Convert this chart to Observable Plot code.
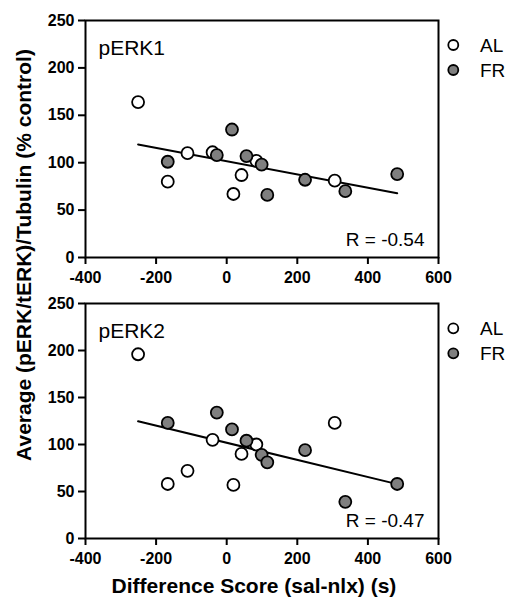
<!DOCTYPE html>
<html>
<head>
<meta charset="utf-8">
<script src="https://cdn.jsdelivr.net/npm/d3@7"></script>
<script src="https://cdn.jsdelivr.net/npm/@observablehq/plot@0.6"></script>
<style>
  body { margin: 0; background: #fff; }
  #chart { position: relative; width: 507px; height: 602px; background: #fff; font-family: "Liberation Sans", Arial, sans-serif; }
  .panel { position: absolute; left: 0; }
  g[aria-label$="axis tick"] { stroke-width: 2px; }
  .tick line { stroke-width: 2px; }
</style>
</head>
<body>
<div id="chart"></div>
<script>
// ---- data ----
const xTicks = [-400, -200, 0, 200, 400, 600];
const yTicks = [0, 50, 100, 150, 200, 250];
const groups = ["AL", "FR"];
const panelLabels = ["pERK1", "pERK2"];
const rLabels = ["R = -0.54", "R = -0.47"];
const xTitle = "Difference Score (sal-nlx) (s)";
const yTitle = "Average (pERK/tERK)/Tubulin (% control)";

// Difference score (s) per subject
const alX = [-251, -167, -111, -40, 19, 42, 84, 306];
const frX = [-167, -28, 15, 56, 99, 115, 222, 336, 483];

// pERK1 (% control)
const alY1 = [164, 80, 110, 111, 67, 87, 102, 81];
const frY1 = [101, 108, 135, 107, 98, 66, 82, 70, 88];

// pERK2 (% control)
const alY2 = [196, 58, 72, 105, 57, 90, 100, 123];
const frY2 = [123, 134, 116, 104, 89, 81, 94, 39, 58];

const FONT = "Liberation Sans, Arial, sans-serif";
const GRAY = "#7f7f7f";

function panel(alY, frY, label, rText, height, marginBottom) {
  const al = alX.map((x, i) => ({x, y: alY[i], g: groups[0]}));
  const fr = frX.map((x, i) => ({x, y: frY[i], g: groups[1]}));
  const all = al.concat(fr);
  return Plot.plot({
    width: 507,
    height,
    marginLeft: 85,
    marginRight: 69,
    marginTop: 20,
    marginBottom,
    style: {fontFamily: FONT, fontSize: "16px", fontWeight: "bold", color: "black", background: "white", overflow: "visible"},
    x: {domain: [-400, 600], ticks: xTicks, tickFormat: d => String(d), tickSize: 7, tickPadding: 7, label: null},
    y: {domain: [0, 250], ticks: yTicks, tickFormat: d => String(d), tickSize: 7, tickPadding: 4, label: null},
    marks: [
      Plot.linearRegressionY(all, {x: "x", y: "y", ci: 0, stroke: "black", strokeWidth: 2}),
      Plot.dot(al, {x: "x", y: "y", r: 6, fill: "white", stroke: "black", strokeWidth: 1.8}),
      Plot.dot(fr, {x: "x", y: "y", r: 6, fill: GRAY, stroke: "black", strokeWidth: 1.8}),
      Plot.frame({stroke: "black", strokeWidth: 2}),
      Plot.text([label], {text: d => d, frameAnchor: "top-left", dx: 13, dy: 20, lineAnchor: "top", textAnchor: "start", fontSize: 21, fontWeight: "normal", fill: "black"}),
      Plot.text([rText], {text: d => d, frameAnchor: "bottom-right", dx: -14, dy: -18, lineAnchor: "middle", textAnchor: "end", fontSize: 19, fontWeight: "normal", fill: "black"})
    ]
  });
}

const chart = document.getElementById("chart");
const top1 = panel(alY1, frY1, panelLabels[0], rLabels[0], 290, 33);
const d1 = document.createElement("div");
d1.className = "panel"; d1.style.top = "0px"; d1.appendChild(top1);
chart.appendChild(d1);

const bot = panel(alY2, frY2, panelLabels[1], rLabels[1], 319, 64);
const d2 = document.createElement("div");
d2.className = "panel"; d2.style.top = "283px"; d2.appendChild(bot);
chart.appendChild(d2);

// overlay: legends and axis titles
const ov = d3.select("#chart").append("svg")
  .attr("width", 507).attr("height", 602)
  .style("position", "absolute").style("left", 0).style("top", 0)
  .style("pointer-events", "none")
  .style("font-family", FONT);

[0, 283.3].forEach(off => {
  groups.forEach((g, i) => {
    ov.append("circle")
      .attr("cx", 453.3).attr("cy", 45 + i * 25 + off).attr("r", 5)
      .attr("fill", i === 0 ? "white" : GRAY)
      .attr("stroke", "black").attr("stroke-width", 1.8);
    ov.append("text")
      .attr("x", 480).attr("y", 51.7 + i * 25 + off)
      .attr("font-size", 19).attr("fill", "black")
      .text(g);
  });
});

ov.append("text")
  .attr("x", 254).attr("y", 593)
  .attr("text-anchor", "middle").attr("font-size", 21).attr("font-weight", "bold")
  .attr("fill", "black")
  .text(xTitle);

ov.append("text")
  .attr("transform", "translate(31,255) rotate(-90)")
  .attr("text-anchor", "middle").attr("font-size", 21).attr("font-weight", "bold")
  .attr("fill", "black")
  .text(yTitle);
</script>
</body>
</html>
